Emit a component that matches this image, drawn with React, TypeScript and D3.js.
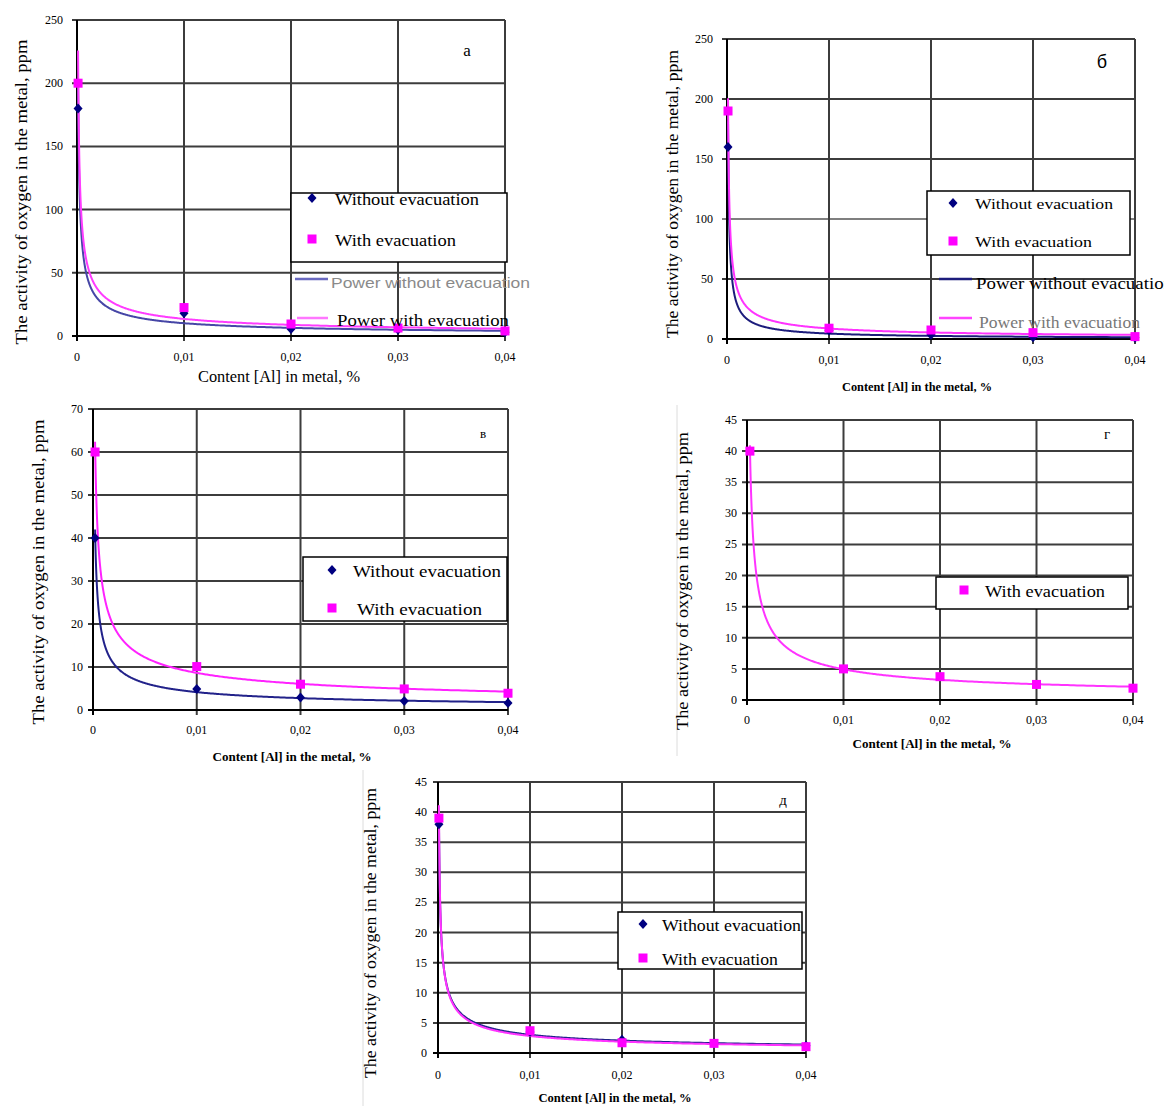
import React from 'react';
import * as d3 from 'd3';

// ---------- data ----------
const xTickValues = [0, 0.01, 0.02, 0.03, 0.04];
const xTickLabels = ['0', '0,01', '0,02', '0,03', '0,04'];

const seriesNames = ['Without evacuation', 'With evacuation'];
const trendNames = ['Power without evacuation', 'Power with evacuation'];
const yTitleText = 'The activity of oxygen in the metal, ppm';

// panel a
const aX = [0.0001, 0.01, 0.02, 0.03, 0.04];
const aWithout = [180, 18, 5.5, 5, 3];
const aWith = [200, 22.5, 9.5, 6.3, 4];
const aYTicks = [0, 50, 100, 150, 200, 250];

// panel б
const bX = [0.0001, 0.01, 0.02, 0.03, 0.04];
const bWithout = [160, 7, 3.5, 1.5, 1];
const bWith = [190, 9, 7.5, 5.3, 2];
const bYTicks = [0, 50, 100, 150, 200, 250];

// panel в
const vX = [0.0002, 0.01, 0.02, 0.03, 0.04];
const vWithout = [40, 4.9, 2.9, 2.1, 1.6];
const vWith = [60, 10.1, 6, 4.9, 3.9];
const vYTicks = [0, 10, 20, 30, 40, 50, 60, 70];

// panel г
const gX = [0.0003, 0.01, 0.02, 0.03, 0.04];
const gWith = [40, 5, 3.75, 2.5, 1.9];
const gYTicks = [0, 5, 10, 15, 20, 25, 30, 35, 40, 45];

// panel д
const dX = [0.0001, 0.01, 0.02, 0.03, 0.04];
const dWithout = [38, 3.5, 2.2, 1.6, 1.2];
const dWith = [39, 3.7, 1.7, 1.6, 1.05];
const dYTicks = [0, 5, 10, 15, 20, 25, 30, 35, 40, 45];

// ---------- styles ----------
const NAVY = '#000080';
const MAG = '#ff00ff';
const SERIF = '"Liberation Serif", "Times New Roman", serif';
const SANS = '"Liberation Sans", Arial, sans-serif';
const GRID = '#3c3c3c';

// Excel-style power trendline (least squares in log-log space)
function powerFit(xs: number[], ys: number[]) {
  const lx = xs.map(Math.log);
  const ly = ys.map(Math.log);
  const mx = d3.mean(lx) as number;
  const my = d3.mean(ly) as number;
  let sxy = 0, sxx = 0;
  lx.forEach((v, i) => { sxy += (v - mx) * (ly[i] - my); sxx += (v - mx) * (v - mx); });
  const b = sxy / sxx;
  const a = Math.exp(my - b * mx);
  return (x: number) => a * Math.pow(x, b);
}

const panels: any[] = [
  {
    id: 'a', x0: 77, x1: 505, y0: 336, y1: 20, yTicks: aYTicks, yGap: 14, xLabelY: 357, tickSize: 12,
    yTitle: { cx: 21, cy: 192, len: 305, size: 17 },
    xTitle: { text: 'Content [Al] in metal, %', cx: 279, cy: 376, len: 162, size: 16, weight: 'normal' },
    letter: { text: 'a', x: 467, y: 50, size: 17, family: SERIF },
    series: [
      { xs: aX, ys: aWithout, marker: 'diamond', color: NAVY, curve: '#4646a6' },
      { xs: aX, ys: aWith, marker: 'square', color: MAG, curve: '#ff3cff' },
    ],
    legend: { x: 291, y: 193, w: 216, h: 69, mx: 312, tx: 335, rows: [{ s: 0, y: 198, len: 144 }, { s: 1, y: 239, len: 121 }], size: 16 },
    power: [
      { s: 0, y: 279, lx0: 295, lx1: 328, color: '#6a6ac0', tx: 331, ty: 282, fill: '#8a8a8a', family: SANS, size: 15, len: 199, weight: 'normal' },
      { s: 1, y: 318, lx0: 297, lx1: 328, color: '#ff77ff', tx: 337, ty: 320, fill: '#000', family: SERIF, size: 17, len: 172, weight: 'normal' },
    ],
  },
  {
    id: 'b', x0: 727, x1: 1135, y0: 339, y1: 39, yTicks: bYTicks, yGap: 14, xLabelY: 360, tickSize: 12,
    darkGrid: [100],
    yTitle: { cx: 672, cy: 194, len: 288, size: 16 },
    xTitle: { text: 'Content [Al] in the metal, %', cx: 917, cy: 387, len: 150, size: 12, weight: 'bold' },
    letter: { text: 'б', x: 1102, y: 62, size: 18, family: SANS },
    series: [
      { xs: bX, ys: bWithout, marker: 'diamond', color: NAVY, curve: '#1c1c7c' },
      { xs: bX, ys: bWith, marker: 'square', color: MAG, curve: '#ff33ff' },
    ],
    legend: { x: 927, y: 191, w: 203, h: 64, mx: 953, tx: 975, rows: [{ s: 0, y: 203, len: 138 }, { s: 1, y: 241, len: 117 }], size: 15 },
    power: [
      { s: 0, y: 279, lx0: 939, lx1: 972, color: '#1c1c7c', tx: 976, ty: 283, fill: '#000', family: SERIF, size: 16, len: 197, weight: 'normal' },
      { s: 1, y: 318, lx0: 939, lx1: 972, color: '#ff44ff', tx: 979, ty: 322, fill: '#777', family: SERIF, size: 16, len: 161, weight: 'normal' },
    ],
  },
  {
    id: 'v', x0: 93, x1: 508, y0: 710, y1: 409, yTicks: vYTicks, yGap: 10, xLabelY: 730, tickSize: 12,
    yTitle: { cx: 38, cy: 572, len: 305, size: 17 },
    xTitle: { text: 'Content [Al] in the metal, %', cx: 292, cy: 757, len: 159, size: 12, weight: 'bold' },
    letter: { text: 'в', x: 483, y: 433, size: 13, family: SERIF },
    series: [
      { xs: vX, ys: vWithout, marker: 'diamond', color: NAVY, curve: '#22228a' },
      { xs: vX, ys: vWith, marker: 'square', color: MAG, curve: '#ff22ff' },
    ],
    legend: { x: 303, y: 557, w: 204, h: 64, mx: 332, tx: 353, rows: [{ s: 0, y: 570, len: 148 }, { s: 1, y: 608, len: 125, dx: 4 }], size: 16 },
    power: [],
  },
  {
    id: 'g', x0: 747, x1: 1133, y0: 700, y1: 420, yTicks: gYTicks, yGap: 10, xLabelY: 720, tickSize: 12,
    yTitle: { cx: 682, cy: 581, len: 298, size: 17 },
    xTitle: { text: 'Content [Al] in the metal, %', cx: 932, cy: 744, len: 159, size: 12, weight: 'bold' },
    letter: { text: 'г', x: 1107, y: 434, size: 15, family: SERIF },
    series: [
      { xs: gX, ys: gWith, marker: 'square', color: MAG, curve: '#ff33ff' },
    ],
    legend: { x: 936, y: 577, w: 192, h: 32, mx: 964, tx: 985, rows: [{ s: 0, name: 1, y: 590, len: 120 }], size: 16 },
    power: [],
  },
  {
    id: 'd', x0: 438, x1: 806, y0: 1053, y1: 782, yTicks: dYTicks, yGap: 11, xLabelY: 1075, tickSize: 12,
    yTitle: { cx: 370, cy: 933, len: 290, size: 17 },
    xTitle: { text: 'Content [Al] in the metal, %', cx: 615, cy: 1098, len: 153, size: 12, weight: 'bold' },
    letter: { text: 'д', x: 783, y: 800, size: 15, family: SERIF },
    series: [
      { xs: dX, ys: dWithout, marker: 'diamond', color: NAVY, curve: '#22228a' },
      { xs: dX, ys: dWith, marker: 'square', color: MAG, curve: '#ff33ff' },
    ],
    legend: { x: 618, y: 912, w: 184, h: 57, mx: 643, tx: 662, rows: [{ s: 0, y: 924, len: 139 }, { s: 1, y: 958, len: 116 }], size: 16 },
    power: [],
  },
];

function Marker({ type, x, y, color }: any) {
  if (type === 'diamond') {
    const r = 5;
    return <path d={`M${x},${y - r}L${x + r - 0.5},${y}L${x},${y + r}L${x - r + 0.5},${y}Z`} fill={color} />;
  }
  const s = 9;
  return <rect x={x - s / 2} y={y - s / 2} width={s} height={s} fill={color} />;
}

function Panel({ cfg }: any) {
  const yMax = cfg.yTicks[cfg.yTicks.length - 1];
  const x = d3.scaleLinear().domain([0, 0.04]).range([cfg.x0, cfg.x1]);
  const y = d3.scaleLinear().domain([0, yMax]).range([cfg.y0, cfg.y1]);
  const clipId = `clip-${cfg.id}`;
  const t = d3.range(0, 1.0001, 0.002);

  const curves = cfg.series.map((s: any) => {
    const f = powerFit(s.xs, s.ys);
    const xmin = d3.min(s.xs) as number;
    const xmax = d3.max(s.xs) as number;
    const pts = t.map((k) => {
      const xv = xmin * Math.pow(xmax / xmin, k);
      return [xv, f(xv)] as [number, number];
    });
    const line = d3.line<[number, number]>().x((d) => x(d[0])).y((d) => y(d[1]));
    return line(pts) as string;
  });

  return (
    <g>
      <defs>
        <clipPath id={clipId}>
          <rect x={cfg.x0 - 2} y={cfg.y1} width={cfg.x1 - cfg.x0 + 6} height={cfg.y0 - cfg.y1 + 3} />
        </clipPath>
      </defs>
      {/* horizontal grid */}
      {cfg.yTicks.filter((v: number) => v !== 0).map((v: number) => {
        const dark = cfg.darkGrid && cfg.darkGrid.includes(v);
        return (
          <line key={`hy${v}`} x1={cfg.x0 - 5} x2={cfg.x1} y1={y(v)} y2={y(v)}
            stroke={dark ? '#000' : GRID} strokeWidth={dark ? 1.2 : 2} />
        );
      })}
      {/* vertical grid */}
      {xTickValues.filter((v) => v !== 0).map((v) => (
        <line key={`vx${v}`} x1={x(v)} x2={x(v)} y1={cfg.y1} y2={cfg.y0 + 5} stroke={GRID} strokeWidth={2} />
      ))}
      {/* axes */}
      <line x1={cfg.x0 - 5} x2={cfg.x1} y1={cfg.y0} y2={cfg.y0} stroke="#000" strokeWidth={2} />
      <line x1={cfg.x0} x2={cfg.x0} y1={cfg.y1} y2={cfg.y0 + 5} stroke="#000" strokeWidth={2} />
      {/* trend curves */}
      <g clipPath={`url(#${clipId})`}>
        {curves.map((d: string, i: number) => (
          <path key={`c${i}`} d={d} fill="none" stroke={cfg.series[i].curve} strokeWidth={2} />
        ))}
      </g>
      {/* markers */}
      {cfg.series.map((s: any, i: number) =>
        s.xs.map((xv: number, j: number) => (
          <Marker key={`m${i}-${j}`} type={s.marker} x={x(xv)} y={y(s.ys[j])} color={s.color} />
        ))
      )}
      {/* y tick labels */}
      {cfg.yTicks.map((v: number) => (
        <text key={`yl${v}`} x={cfg.x0 - cfg.yGap} y={y(v)} textAnchor="end" dominantBaseline="central"
          fontFamily={SERIF} fontSize={cfg.tickSize} fill="#000">{v}</text>
      ))}
      {/* x tick labels */}
      {xTickValues.map((v, i) => (
        <text key={`xl${v}`} x={x(v)} y={cfg.xLabelY} textAnchor="middle" dominantBaseline="central"
          fontFamily={SERIF} fontSize={cfg.tickSize} fill="#000">{xTickLabels[i]}</text>
      ))}
      {/* axis titles */}
      <text transform={`translate(${cfg.yTitle.cx},${cfg.yTitle.cy}) rotate(-90)`} textAnchor="middle"
        dominantBaseline="central" fontFamily={SERIF} fontSize={cfg.yTitle.size} fill="#000"
        textLength={cfg.yTitle.len} lengthAdjust="spacingAndGlyphs">{yTitleText}</text>
      <text x={cfg.xTitle.cx} y={cfg.xTitle.cy} textAnchor="middle" dominantBaseline="central"
        fontFamily={SERIF} fontSize={cfg.xTitle.size} fontWeight={cfg.xTitle.weight} fill="#000"
        textLength={cfg.xTitle.len} lengthAdjust="spacingAndGlyphs">{cfg.xTitle.text}</text>
      {/* panel letter */}
      <text x={cfg.letter.x} y={cfg.letter.y} textAnchor="middle" dominantBaseline="central"
        fontFamily={cfg.letter.family} fontSize={cfg.letter.size} fill="#000">{cfg.letter.text}</text>
      {/* legend box */}
      <rect x={cfg.legend.x} y={cfg.legend.y} width={cfg.legend.w} height={cfg.legend.h}
        fill="#fff" stroke="#000" strokeWidth={1.5} />
      {cfg.legend.rows.map((r: any, i: number) => {
        const s = cfg.series[r.s];
        const nameIdx = r.name !== undefined ? r.name : r.s;
        return (
          <g key={`lg${i}`}>
            <Marker type={s.marker} x={cfg.legend.mx} y={r.y} color={s.color} />
            <text x={cfg.legend.tx + (r.dx || 0)} y={r.y + 1} dominantBaseline="central" fontFamily={SERIF}
              fontSize={cfg.legend.size} fill="#000" textLength={r.len} lengthAdjust="spacingAndGlyphs">
              {seriesNames[nameIdx]}
            </text>
          </g>
        );
      })}
      {/* trendline legend entries */}
      {cfg.power.map((p: any, i: number) => (
        <g key={`pw${i}`}>
          <line x1={p.lx0} x2={p.lx1} y1={p.y} y2={p.y} stroke={p.color} strokeWidth={2.5} />
          <text x={p.tx} y={p.ty} dominantBaseline="central" fontFamily={p.family} fontSize={p.size}
            fontWeight={p.weight} fill={p.fill} textLength={p.len} lengthAdjust="spacingAndGlyphs">
            {trendNames[p.s]}
          </text>
        </g>
      ))}
    </g>
  );
}

export default function App() {
  return (
    <svg width={1164} height={1106} viewBox="0 0 1164 1106"
      style={{ position: 'absolute', left: 0, top: 0, background: '#fff' }}>
      <rect x={0} y={0} width={1164} height={1106} fill="#fff" />
      {/* faint image borders */}
      <line x1={677} x2={677} y1={405} y2={756} stroke="#dcdcdc" strokeWidth={1} />
      <line x1={363} x2={363} y1={770} y2={1106} stroke="#dcdcdc" strokeWidth={1} />
      {panels.map((p) => (
        <Panel key={p.id} cfg={p} />
      ))}
    </svg>
  );
}
